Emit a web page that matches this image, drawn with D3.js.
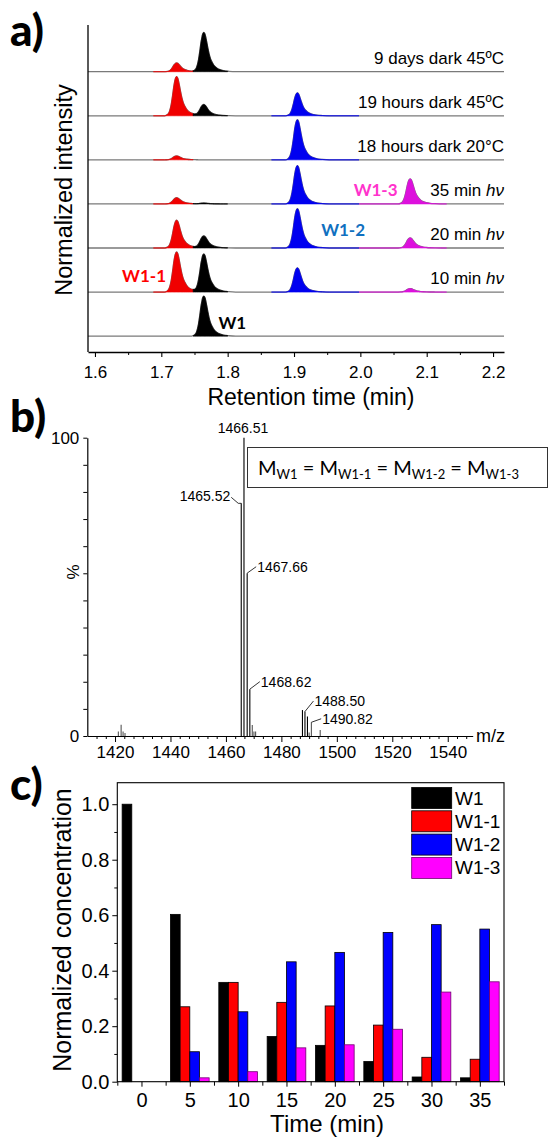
<!DOCTYPE html>
<html>
<head>
<meta charset="utf-8">
<script src="https://cdn.jsdelivr.net/npm/d3@7"></script>
<style>
  html, body { margin: 0; padding: 0; background: #fff; }
  svg { display: block; }
  text { font-family: "Liberation Sans", Arial, sans-serif; fill: #000; }
</style>
</head>
<body>
<svg id="chart" width="551" height="1138"></svg>
<script>
// ---------------- DATA ----------------
// Panel a) chromatograms (bottom to top)
const traceLabels = ["", "10 min |hν", "20 min |hν", "35 min |hν", "18 hours dark 20°C", "19 hours dark 45ºC", "9 days dark 45ºC"];
const compounds = ["W1-1", "W1", "W1-2", "W1-3"];
const compoundColors = ["#f00000", "#000000", "#0000f0", "#dd10dd"];
const retentionTimes = [1.723, 1.764, 1.905, 2.075];
const fillWindows = [[1.688, 1.748], [1.748, 1.80], [1.866, 1.998], [1.998, 2.13]];
// relative peak heights per trace: [W1-1, W1, W1-2, W1-3]
const peakHeights = [
  [0.00, 0.91, 0.00, 0.00],  // W1
  [0.91, 0.86, 0.55, 0.08],  // 10 min hv
  [0.63, 0.27, 0.89, 0.23],  // 20 min hv
  [0.14, 0.02, 0.87, 0.57],  // 35 min hv
  [0.09, 0.00, 0.91, 0.00],  // 18 hours dark 20C
  [0.89, 0.25, 0.52, 0.00],  // 19 hours dark 45C
  [0.20, 0.89, 0.00, 0.00]   // 9 days dark 45C
];
// tailing peak profile (offset from apex, min)
const profileOffsets = [-0.018, -0.014, -0.011, -0.008, -0.006, -0.004, -0.002, 0, 0.002, 0.004, 0.006, 0.008, 0.010, 0.013, 0.016, 0.020, 0.025, 0.030, 0.038, 0.048];
const profileValues  = [0, 0.03, 0.10, 0.30, 0.52, 0.77, 0.94, 1, 0.95, 0.80, 0.62, 0.46, 0.34, 0.23, 0.15, 0.09, 0.05, 0.025, 0.01, 0];
const rtTicks = [1.6, 1.7, 1.8, 1.9, 2.0, 2.1, 2.2];
const compoundLabels = [
  {name: "W1-1", t: 1.674, trace: 1, lift: 0.22, color: "#ff0000"},
  {name: "W1-2", t: 1.974, trace: 2, lift: 0.27, color: "#1070c0"},
  {name: "W1-3", t: 2.023, trace: 3, lift: 0.18, color: "#ff33cc"},
  {name: "W1",   t: 1.807, trace: 0, lift: 0.16, color: "#000000"}
];

// Panel b) mass spectrum
const msMz  = [1421.2, 1422.2, 1422.9, 1423.6, 1465.52, 1466.51, 1467.66, 1468.62, 1469.5, 1470.1, 1470.7, 1487.6, 1488.50, 1489.4, 1490.0, 1490.82, 1494.0];
const msInt = [1.5, 3.8, 1.5, 1.0, 78, 100, 54.6, 15.7, 3.7, 1.5, 1.5, 8.7, 8.2, 6.5, 1.2, 4.6, 2.0];
const msLabelText = ["1466.51", "1465.52", "1467.66", "1468.62", "1488.50", "1490.82"];
const msLabelMz   = [1466.51, 1465.52, 1467.66, 1468.62, 1488.50, 1490.82];
const msLabelSide = ["top", "left", "right", "right", "right", "right"];
const msLabelDx   = [-1, -11, 10, 11, 9.5, 10.8];
const msLabelDy   = [-5, -2.4, -1.4, -2.5, -5.5, 1.5];
const mzTicks = [1420, 1440, 1460, 1480, 1500, 1520, 1540];

// Panel c) bar chart
const times = [0, 5, 10, 15, 20, 25, 30, 35];
const seriesNames = ["W1", "W1-1", "W1-2", "W1-3"];
const seriesColors = ["#000000", "#ff0000", "#0000ff", "#ff00ff"];
const concW1  = [1.00, 0.603, 0.358, 0.163, 0.131, 0.073, 0.017, 0.014];
const concW11 = [0.00, 0.270, 0.358, 0.286, 0.273, 0.204, 0.088, 0.081];
const concW12 = [0.00, 0.108, 0.252, 0.432, 0.466, 0.538, 0.566, 0.550];
const concW13 = [0.00, 0.014, 0.036, 0.122, 0.133, 0.189, 0.323, 0.360];
const concTicks = [0.0, 0.2, 0.4, 0.6, 0.8, 1.0];

// ---------------- DRAW ----------------
const svg = d3.select("#chart");
svg.append("rect").attr("width", 551).attr("height", 1138).attr("fill", "#fff");

function panelLetter(txt, x, y) {
  svg.append("text").attr("x", x).attr("y", y).text(txt)
    .style("font-family", "Lato, 'Open Sans', sans-serif").style("font-weight", "900").style("font-size", "44px");
}

// ===== Panel a =====
const xA = d3.scaleLinear().domain([1.5895, 2.2165]).range([88, 504]);
const yA = d3.scaleLinear().domain([-0.36, 7.06]).range([352, 25]);
const gA = svg.append("g");

function profile(dt) {
  if (dt <= profileOffsets[0] || dt >= profileOffsets[profileOffsets.length - 1]) return 0;
  const i = d3.bisectRight(profileOffsets, dt) - 1;
  const f = (dt - profileOffsets[i]) / (profileOffsets[i + 1] - profileOffsets[i]);
  return profileValues[i] + f * (profileValues[i + 1] - profileValues[i]);
}
function traceValue(k, t) {
  return d3.sum(retentionTimes, (c, j) => peakHeights[k][j] * profile(t - c));
}
let sampleT = [...xA.domain()];
retentionTimes.forEach(c => profileOffsets.forEach(o => sampleT.push(c + o)));
fillWindows.forEach(w => sampleT.push(w[0], w[1]));
sampleT = Array.from(new Set(sampleT.map(v => +v.toFixed(5)))).sort((a, b) => a - b);

peakHeights.forEach((h, k) => {
  const pts = sampleT.map(t => ({t, v: traceValue(k, t)}));
  const line = d3.line().x(d => xA(d.t)).y(d => yA(k + d.v)).curve(d3.curveMonotoneX);
  gA.append("path").attr("d", line(pts)).attr("fill", "none").attr("stroke", "#7a7a7a").attr("stroke-width", 1.3);
  fillWindows.forEach((w, j) => {
    if (h[j] <= 0) return;
    const sub = pts.filter(d => d.t >= w[0] - 1e-9 && d.t <= w[1] + 1e-9);
    const area = d3.area().x(d => xA(d.t)).y0(yA(k)).y1(d => yA(k + d.v)).curve(d3.curveMonotoneX);
    gA.append("path").attr("d", area(sub)).attr("fill", compoundColors[j])
      .attr("stroke", compoundColors[j]).attr("stroke-width", 0.8).attr("stroke-opacity", 0.8);
  });
  const lab = traceLabels[k];
  if (lab) {
    const parts = lab.split("|");
    const t = gA.append("text").attr("x", xA.range()[1]).attr("y", yA(k) - 8)
      .attr("text-anchor", "end").style("font-size", "17px");
    t.append("tspan").text(parts[0]);
    if (parts[1]) t.append("tspan").style("font-style", "italic").text(parts[1]);
  }
});

compoundLabels.forEach(l => {
  gA.append("text").attr("x", xA(l.t)).attr("y", yA(l.trace + l.lift))
    .attr("text-anchor", "middle")
    .style("fill", l.color)
    .style("font-family", "Lato, 'Open Sans', sans-serif").style("font-weight", "bold").style("font-size", "17px")
    .text(l.name);
});

gA.append("line").attr("x1", 88).attr("x2", 88).attr("y1", 25).attr("y2", 352).attr("stroke", "#000").attr("stroke-width", 1.3);
const axA = gA.append("g").attr("transform", "translate(0,352)")
  .call(d3.axisBottom(xA).tickValues(rtTicks).tickSize(5).tickSizeOuter(0).tickFormat(d3.format(".1f")));
axA.select(".domain").attr("stroke-width", 1.3);
axA.selectAll(".tick line").attr("stroke-width", 1.1);
axA.selectAll(".tick text").attr("y", 14).attr("dy", "0.71em").style("font-size", "17px").style("font-family", "'Liberation Sans', Arial, sans-serif");
gA.append("g").attr("transform", "translate(0,352)")
  .call(d3.axisBottom(xA).tickValues(d3.range(1.65, 2.2, 0.1)).tickSize(3).tickFormat(""))
  .call(g => g.select(".domain").remove());
gA.append("text").attr("x", 311).attr("y", 405).attr("text-anchor", "middle").style("font-size", "23px").text("Retention time (min)");
gA.append("text").attr("transform", "translate(72,190) rotate(-90)").attr("text-anchor", "middle").style("font-size", "23.5px").text("Normalized intensity");
panelLetter("a)", 10, 46);

// ===== Panel b =====
const xB = d3.scaleLinear().domain([1410, 1549]).range([87.3, 472.7]);
const yB = d3.scaleLinear().domain([0, 100]).range([736, 437.7]);
const gB = svg.append("g");

gB.selectAll("line.peak").data(msMz).enter().append("line").attr("class", "peak")
  .attr("x1", d => xB(d)).attr("x2", d => xB(d))
  .attr("y1", yB(0)).attr("y2", (d, i) => yB(msInt[i]))
  .attr("stroke", (d, i) => msInt[i] > 5 ? "#000" : "#555").attr("stroke-width", 1.1);

const axBy = gB.append("g").attr("transform", "translate(87.3,0)")
  .call(d3.axisLeft(yB).tickValues(d3.range(0, 12).map(i => i * 100 / 11)).tickSize(4).tickSizeOuter(0)
    .tickFormat(d => (Math.abs(d) < 1e-6 ? "0" : Math.abs(d - 100) < 1e-6 ? "100" : "")));
axBy.selectAll(".tick text").style("font-size", "17px").attr("x", -8).style("font-family", "'Liberation Sans', Arial, sans-serif");
axBy.select(".domain").attr("stroke-width", 1.2);
const axBx = gB.append("g").attr("transform", `translate(0,${yB(0)})`)
  .call(d3.axisBottom(xB).tickValues(mzTicks).tickSize(6).tickSizeOuter(0).tickFormat(d3.format("d")));
axBx.select(".domain").attr("stroke-width", 1.2);
axBx.selectAll(".tick text").attr("y", 10).attr("dy", "0.71em").style("font-size", "17px").style("font-family", "'Liberation Sans', Arial, sans-serif");
gB.append("g").attr("transform", `translate(0,${yB(0)})`)
  .call(d3.axisBottom(xB).tickValues(d3.range(1410 + 10 / 3, 1549, 20 / 6).filter(v => Math.abs((v - 1420) / 20 - Math.round((v - 1420) / 20)) > 0.01)).tickSize(3).tickFormat(""))
  .call(g => g.select(".domain").remove());
gB.append("text").attr("x", 476).attr("y", 742).style("font-size", "18px").text("m/z");
gB.append("text").attr("transform", `translate(79,${yB(55)}) rotate(-90)`).attr("text-anchor", "middle").style("font-size", "17px").text("%");

msLabelText.forEach((txt, li) => {
  const i = msMz.indexOf(msLabelMz[li]);
  const px = xB(msLabelMz[li]), py = yB(msInt[i]);
  const dx = msLabelDx[li], dy = msLabelDy[li];
  const side = msLabelSide[li];
  if (side === "top") {
    gB.append("text").attr("x", px + dx).attr("y", py + dy).attr("text-anchor", "middle").style("font-size", "14px").text(txt);
  } else if (side === "left") {
    gB.append("path").attr("d", `M${px},${py} L${px - 3},${py} L${px - 10},${py - 6}`).attr("fill", "none").attr("stroke", "#000").attr("stroke-width", 0.8);
    gB.append("text").attr("x", px + dx).attr("y", py + dy).attr("text-anchor", "end").style("font-size", "14px").text(txt);
  } else {
    gB.append("path").attr("d", `M${px},${py} L${px + dx - 1},${py + dy - 5}`).attr("fill", "none").attr("stroke", "#000").attr("stroke-width", 0.8);
    gB.append("text").attr("x", px + dx).attr("y", py + dy).style("font-size", "14px").text(txt);
  }
});

gB.append("rect").attr("x", 247.5).attr("y", 447.5).attr("width", 300).attr("height", 40)
  .attr("fill", "#fff").attr("stroke", "#333").attr("stroke-width", 1);
const eq = gB.append("text").attr("x", 258).attr("y", 475)
  .style("font-family", "Lato, 'Open Sans', sans-serif").style("font-size", "20px");
const subs = ["W1", "W1-1", "W1-2", "W1-3"];
subs.forEach((s, i) => {
  eq.append("tspan").attr("dy", i === 0 ? 0 : -4).text((i === 0 ? "" : " = ") + "M");
  eq.append("tspan").attr("dy", 4).style("font-size", "13px").text(s);
});
panelLetter("b)", 10, 432);

// ===== Panel c =====
const xC = d3.scaleLinear().domain([-2.5, 37.5]).range([117.3, 504]);
const yC = d3.scaleLinear().domain([0, 1.0775]).range([1081.7, 782.7]);
const gC = svg.append("g");
const concSeries = [concW1, concW11, concW12, concW13];
const barW = xC(1) - xC(0);

concSeries.forEach((vals, j) => {
  gC.selectAll(null).data(times).enter().append("rect")
    .attr("x", d => xC(d - 2 + j))
    .attr("width", barW)
    .attr("y", (d, i) => yC(vals[i]))
    .attr("height", (d, i) => yC(0) - yC(vals[i]))
    .attr("fill", seriesColors[j])
    .attr("stroke", j === 3 ? "#700070" : "#000").attr("stroke-width", 0.8);
});

gC.append("rect").attr("x", 117.3).attr("y", 782.7).attr("width", 504 - 117.3).attr("height", 1081.7 - 782.7)
  .attr("fill", "none").attr("stroke", "#000").attr("stroke-width", 1.1);
const axCy = gC.append("g").attr("transform", "translate(117.3,0)")
  .call(d3.axisLeft(yC).tickValues(concTicks).tickSize(5).tickSizeOuter(0).tickFormat(d3.format(".1f")));
axCy.select(".domain").remove();
axCy.selectAll(".tick text").attr("x", -8).style("font-size", "20px").style("font-family", "'Liberation Sans', Arial, sans-serif");
gC.append("g").attr("transform", "translate(117.3,0)")
  .call(d3.axisLeft(yC).tickValues(d3.range(0.1, 1.05, 0.2)).tickSize(3).tickFormat(""))
  .call(g => g.select(".domain").remove());
const axCx = gC.append("g").attr("transform", "translate(0,1081.7)")
  .call(d3.axisBottom(xC).tickValues(times).tickSize(5).tickSizeOuter(0).tickFormat(d3.format("d")));
axCx.select(".domain").remove();
axCx.selectAll(".tick text").attr("y", 11).attr("dy", "0.71em").style("font-size", "20px").style("font-family", "'Liberation Sans', Arial, sans-serif");
gC.append("g").attr("transform", "translate(0,1081.7)")
  .call(d3.axisBottom(xC).tickValues(d3.range(-2.5, 37.6, 5)).tickSize(4).tickFormat(""))
  .call(g => g.select(".domain").remove());
gC.append("text").attr("x", 327).attr("y", 1132).attr("text-anchor", "middle").style("font-size", "24px").text("Time (min)");
gC.append("text").attr("transform", "translate(71,930) rotate(-90)").attr("text-anchor", "middle").style("font-size", "25px").text("Normalized concentration");

const leg = gC.append("g");
seriesNames.forEach((n, j) => {
  const y0 = 787.5 + j * 23.3;
  leg.append("rect").attr("x", 411.7).attr("y", y0).attr("width", 40).attr("height", 21)
    .attr("fill", seriesColors[j]).attr("stroke", j === 3 ? "#700070" : "#000").attr("stroke-width", 0.8);
  leg.append("text").attr("x", 455).attr("y", y0 + 17).style("font-size", "19px").text(n);
});
panelLetter("c)", 10, 800);
</script>
</body>
</html>
